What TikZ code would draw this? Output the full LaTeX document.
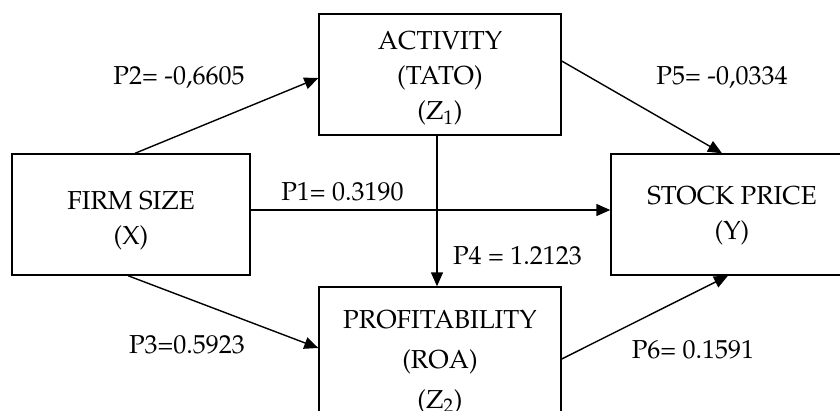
\documentclass[tikz,border=0pt]{standalone}
\usepackage[T1]{fontenc}
\usepackage{mathpazo}
\usetikzlibrary{arrows.meta}
\begin{document}
\begin{tikzpicture}[x=1pt,y=-1pt,
  varbox/.style={draw, line width=1.4pt, minimum width=242pt, minimum height=121pt,
    inner sep=0pt, align=center, font=\fontsize{26}{35}\selectfont},
  coef/.style={inner sep=0pt, font=\fontsize{26}{30}\selectfont},
  path/.style={line width=1.4pt, -{Triangle[length=14pt,width=12pt]}}]
\useasboundingbox (0,0) rectangle (840,410);
\node[varbox, minimum width=238pt] (firm) at (131,214.5) {\rule{0pt}{35pt}FIRM SIZE\\\strut (X)};
\node[varbox] (act) at (440,74.5) {\rule{0pt}{31pt}ACTIVITY\\\strut (TATO)\\\strut (Z\textsubscript{1})};
\node[varbox] (stock) at (732,214.5) {\strut STOCK PRICE\\\strut (Y)};
\node[varbox, font=\fontsize{26}{40}\selectfont] (prof) at (440,353.5) {\rule{0pt}{41pt}PROFITABILITY\\\strut (ROA)\\\strut (Z\textsubscript{2})};
\draw[path] ([xshift=4pt]firm.north) -- ([yshift=-3.5pt]act.west);
\draw[path] ([yshift=13.5pt]act.east) -- ([xshift=-10pt]stock.north);
\draw[path] ([yshift=4.5pt]firm.east) -- ([yshift=4.5pt]stock.west);
\draw[path] ([xshift=-3pt]act.south) -- ([xshift=-3pt]prof.north);
\draw[path] ([xshift=-3pt]firm.south) -- ([yshift=5.5pt]prof.west);
\draw[path] ([yshift=-5.5pt]prof.east) -- ([xshift=-4pt]stock.south);
\node[coef] (p2) at (179,78) {P2= -0,6605};
\node[coef] (p5) at (722,78) {P5= -0,0334};
\node[coef] (p1) at (342.5,192) {P1= 0.3190};
\node[coef] (p4) at (517.5,256) {P4 = 1.2123};
\node[coef] (p3) at (187,345) {P3=0.5923};
\node[coef] (p6) at (693,350) {P6= 0.1591};
\end{tikzpicture}
\end{document}
